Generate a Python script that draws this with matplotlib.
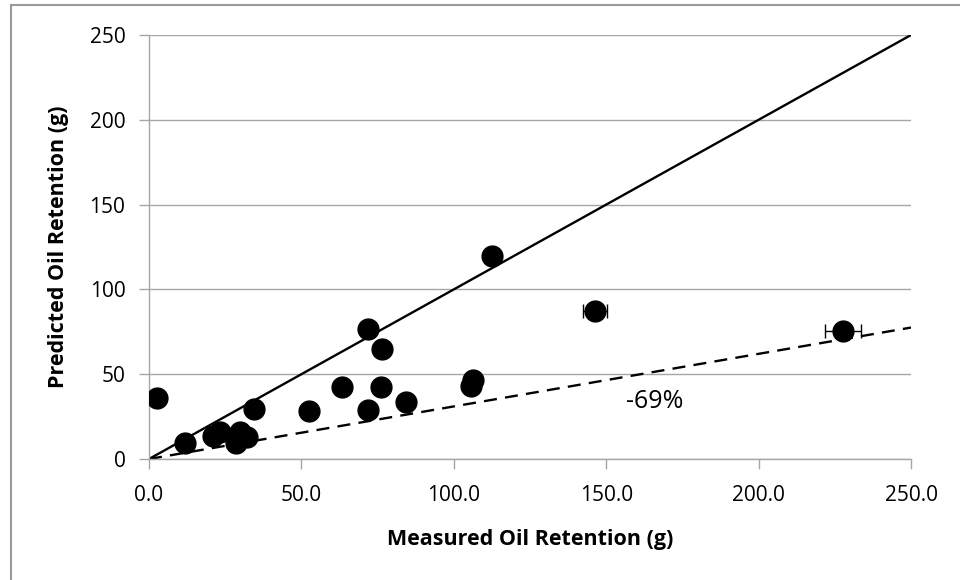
import matplotlib
matplotlib.use("Agg")
import matplotlib.pyplot as plt
from matplotlib.lines import Line2D

measured = [2.6, 11.8, 21.0, 23.3, 29.9, 28.5, 32.2, 34.4, 52.5, 63.3, 71.9, 76.4,
            76.1, 71.9, 84.3, 105.6, 106.3, 112.5, 146.3, 227.7]
predicted = [36.0, 9.4, 13.6, 15.9, 15.9, 9.4, 13.0, 29.5, 28.3, 42.5, 76.7, 64.9,
             42.5, 28.9, 33.6, 43.0, 46.6, 119.7, 87.3, 75.5]
x_err = [0, 0, 0, 0, 0, 0, 0, 0, 0, 0, 0, 0, 0, 0, 0, 0, 0, 0, 4.0, 6.0]
line_x = [0, 250]
one_to_one = [0, 250]
fit_factor = 0.31
annot = "-69%"

plt.rcParams['font.family'] = ['Open Sans', 'DejaVu Sans']

fig = plt.figure(figsize=(9.6, 5.8), dpi=100)
ax = fig.add_axes([149/960, 1-459/580, (911-149)/960, (459-35)/580])

# outer chart-area frame (only top and left edges visible, rest cropped)
fig.lines.append(Line2D([10.5/960, 1.0], [1-5/580, 1-5/580], transform=fig.transFigure,
                        color='#999999', lw=1.5))
fig.lines.append(Line2D([10.5/960, 10.5/960], [0, 1-5/580], transform=fig.transFigure,
                        color='#999999', lw=1.5))

ax.plot(line_x, one_to_one, color='black', lw=1.7, zorder=2)
ax.plot(line_x, [v * fit_factor for v in line_x], color='black', lw=1.7,
        ls=(0, (5.5, 3.5)), zorder=2)
ax.errorbar(measured, predicted, xerr=x_err, fmt='o', ms=15, color='black',
            ecolor='black', elinewidth=1, capsize=5, capthick=1, zorder=3)
ax.text(166, 34, annot, fontsize=18, ha='center', va='center')

ax.set_xlim(0, 250)
ax.set_ylim(0, 250)
ax.set_xticks([0, 50, 100, 150, 200, 250])
ax.set_xticklabels(['0.0', '50.0', '100.0', '150.0', '200.0', '250.0'])
ax.set_yticks([0, 50, 100, 150, 200, 250])
ax.yaxis.grid(True, color='#a6a6a6', lw=1)
ax.set_axisbelow(True)
for s in ['top', 'right']:
    ax.spines[s].set_visible(False)
for s in ['left', 'bottom']:
    ax.spines[s].set_color('#a6a6a6')
    ax.spines[s].set_linewidth(1)
ax.tick_params(axis='both', colors='#a6a6a6', labelcolor='black', labelsize=15,
               length=7, width=1, direction='out')
ax.tick_params(axis='x', pad=12)
ax.tick_params(axis='y', pad=10)
ax.set_xlabel('Measured Oil Retention (g)', fontsize=15.5, fontweight='bold', labelpad=16)
ax.set_ylabel('Predicted Oil Retention (g)', fontsize=15.5, fontweight='bold', labelpad=15)

fig.savefig('out.png', dpi=100)
